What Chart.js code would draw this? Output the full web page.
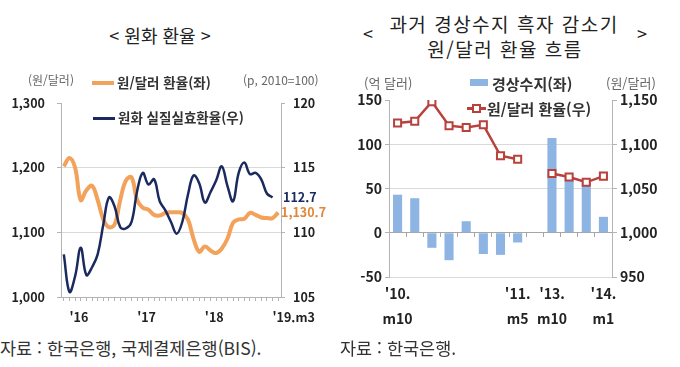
<!DOCTYPE html>
<html lang="ko">
<head>
<meta charset="UTF-8">
<title>원화 환율</title>
<script src="https://cdn.jsdelivr.net/npm/chart.js"></script>
<style>
  body { margin: 0; background: #fff; font-family: 'Noto Sans CJK KR', sans-serif; }
  #page { position: relative; width: 680px; height: 367px; overflow: hidden; background: #fff; }
  .box { position: absolute; top: 60px; width: 340px; height: 270px; }
  .t { position: absolute; white-space: nowrap; transform: translateY(-50%); line-height: 1; }
  .c { transform: translate(-50%, -50%); }
  .title { font-size: 18px; color: #222; }
  .title2 { font-size: 19px; letter-spacing: 1.5px; color: #222; }
  .unit { font-size: 12px; color: #666; }
  .unit2 { font-size: 13px; color: #666; }
  .leg { font-size: 13.5px; font-weight: bold; color: #333; }
  .leg2 { font-size: 15px; font-weight: bold; color: #333; }
  .note { font-size: 17.5px; color: #333; }
  .sw { position: absolute; }
</style>
</head>
<body>
<div id="page">
  <!-- titles -->
  <div class="t c title" style="left:160px; top:35px;">&lt; 원화 환율 &gt;</div>
  <div class="t c title" style="left:368px; top:33px;">&lt;</div>
  <div class="t c title2" style="left:504px; top:23px;">과거 경상수지 흑자 감소기</div>
  <div class="t c title2" style="left:505px; top:48px;">원/달러 환율 흐름</div>
  <div class="t c title" style="left:642px; top:33px;">&gt;</div>

  <!-- left chart -->
  <div class="box" style="left:0;"><canvas id="rateChart"></canvas></div>
  <div class="t unit" style="left:28px; top:80px;">(원/달러)</div>
  <div class="t unit" style="left:243px; top:80px;">(p, 2010=100)</div>
  <div class="sw" style="left:92px; top:81px; width:22px; height:4px; background:#f2a25a;"></div>
  <div class="t leg" style="left:117px; top:83px;">원/달러 환율(좌)</div>
  <div class="sw" style="left:93px; top:117px; width:22px; height:3px; background:#1b2a5e;"></div>
  <div class="t leg" style="left:118px; top:118px;">원화 실질실효환율(우)</div>

  <!-- right chart -->
  <div class="box" style="left:340px; height:290px;"><canvas id="caChart"></canvas></div>
  <div class="t unit2" style="left:364px; top:82px;">(억 달러)</div>
  <div class="t unit2" style="left:606px; top:82px;">(원/달러)</div>
  <div class="sw" style="left:470px; top:79px; width:18px; height:7px; background:#8db4e2;"></div>
  <div class="t leg2" style="left:492px; top:83px;">경상수지(좌)</div>
  <div class="sw" style="left:467px; top:107px; width:19px; height:2.5px; background:#b8413c;"></div>
  <div class="sw" style="left:472px; top:104px; width:5px; height:5px; border:2px solid #b8413c; background:#fff;"></div>
  <div class="t leg2" style="left:487px; top:108px;">원/달러 환율(우)</div>

  <!-- sources -->
  <div class="t note" style="left:0; top:348px;">자료 : 한국은행, 국제결제은행(BIS).</div>
  <div class="t note" style="left:340px; top:348px;">자료 : 한국은행.</div>
</div>

<script>
// left chart: 2016.1 ~ 2019.3, monthly
const months = ["'16.1","'16.2","'16.3","'16.4","'16.5","'16.6","'16.7","'16.8","'16.9","'16.10","'16.11","'16.12",
                "'17.1","'17.2","'17.3","'17.4","'17.5","'17.6","'17.7","'17.8","'17.9","'17.10","'17.11","'17.12",
                "'18.1","'18.2","'18.3","'18.4","'18.5","'18.6","'18.7","'18.8","'18.9","'18.10","'18.11","'18.12",
                "'19.1","'19.2","'19.3"];
const usdKrw = [1202,1215,1200,1150,1165,1172,1150,1120,1108,1112,1150,1180,
                1185,1150,1138,1135,1127,1126,1130,1131,1131,1130,1120,1090,
                1070,1078,1072,1068,1075,1090,1115,1120,1121,1130,1127,1123,
                1122,1122,1130.7];
const reer = [108.3,105.4,106.6,108.8,106.7,107.3,108.3,110.6,112.7,112.0,110.4,110.3,
              110.8,113.2,114.6,113.7,114.1,112.4,111.7,110.8,109.9,110.8,112.9,114.4,
              113.8,112.3,113.1,114.0,115.1,113.6,112.4,114.6,115.4,114.5,114.6,114.1,
              113.0,112.7];
const monthTickIdx = [1, 13, 25, 37];
const monthTickText = ["'16", "'17", "'18", "'19.m3"];

// right chart: 2010.10 ~ 2011.5, gap, 2013.10 ~ 2014.1
const periods = ["'10.10","'10.11","'10.12","'11.1","'11.2","'11.3","'11.4","'11.5","",
                 "'13.10","'13.11","'13.12","'14.1"];
const currentAcct = [43,39,-17,-31,13,-24,-25,-11,null,107,62,57,18];
const usdKrwPast = [1124,1126,1148,1121,1119,1122,1087,1083,null,1067,1063,1057,1064];
const periodTickIdx = [0, 7, 9, 12];
const periodTickText = [["'10.","m10"], ["'11.","m5"], ["'13.","m10"], ["'14.","m1"]];

const ORANGE = '#f2a25a', NAVY = '#1b2a5e', BAR = '#8db4e2', RED = '#b8413c';
const GRID = '#d9d9d9', AXIS = '#b4b4b4';

Chart.defaults.font.family = "'Noto Sans CJK KR', sans-serif";
Chart.defaults.color = '#222';
const tickFont = { size: 12.5, weight: 'bold' };
const tickFont2 = { size: 14, weight: 'bold' };
const comma = v => Number(v).toLocaleString('en-US');

const endLabels = {
    id: 'endLabels',
    afterDatasetsDraw(chart) {
        const ctx = chart.ctx, a = chart.chartArea;
        const lastR = reer[reer.length - 1], lastK = usdKrw[usdKrw.length - 1];
        ctx.save();
        ctx.font = "bold 12.5px 'Noto Sans CJK KR'";
        ctx.textBaseline = 'middle';
        ctx.fillStyle = NAVY;
        ctx.fillText(lastR.toFixed(1), a.right + 2, chart.scales.y1.getPixelForValue(lastR));
        ctx.fillStyle = '#e0873a';
        ctx.fillText(lastK.toLocaleString('en-US', { minimumFractionDigits: 1 }), a.right, chart.scales.y.getPixelForValue(lastK));
        ctx.restore();
    }
};

new Chart(document.getElementById('rateChart'), {
    type: 'line',
    data: {
        labels: months,
        datasets: [
            { label: '원화 실질실효환율(우)', data: reer, yAxisID: 'y1', borderColor: NAVY, borderWidth: 2.5,
              pointRadius: 0, tension: 0.4, order: 0 },
            { label: '원/달러 환율(좌)', data: usdKrw, yAxisID: 'y', borderColor: ORANGE, borderWidth: 4,
              pointRadius: 0, tension: 0.4, order: 1 }
        ]
    },
    options: {
        responsive: true,
        maintainAspectRatio: false,
        animation: false,
        layout: { padding: { top: 43 } },
        plugins: { legend: { display: false }, tooltip: { enabled: false } },
        scales: {
            x: {
                offset: true,
                afterFit: s => { s.height = 33; },
                border: { color: AXIS },
                grid: { drawOnChartArea: false, tickLength: 4, color: AXIS },
                ticks: {
                    autoSkip: false, maxRotation: 0, align: 'start', padding: 9, font: tickFont,
                    callback: (v, i) => { const k = monthTickIdx.indexOf(i); return k >= 0 ? monthTickText[k] : ''; }
                }
            },
            y: {
                position: 'left', min: 1000, max: 1300,
                afterFit: s => { s.width = 61; },
                border: { color: AXIS },
                grid: { tickLength: 4, tickColor: AXIS,
                        color: c => (c.tick.value === 1100 || c.tick.value === 1200) ? GRID : 'rgba(0,0,0,0)' },
                ticks: { stepSize: 100, padding: 12, font: tickFont, callback: comma }
            },
            y1: {
                position: 'right', min: 105, max: 120,
                afterFit: s => { s.width = 59; },
                border: { color: AXIS },
                grid: { drawOnChartArea: false, tickLength: 4, color: AXIS },
                ticks: { stepSize: 5, padding: 8, font: tickFont }
            }
        }
    },
    plugins: [endLabels]
});

new Chart(document.getElementById('caChart'), {
    type: 'bar',
    data: {
        labels: periods,
        datasets: [
            { type: 'line', label: '원/달러 환율(우)', data: usdKrwPast, yAxisID: 'y1', borderColor: RED, borderWidth: 2.5,
              pointStyle: 'rect', pointRadius: 5, pointBorderWidth: 2, pointBackgroundColor: '#fff',
              pointBorderColor: RED, spanGaps: false, order: 0 },
            { type: 'bar', label: '경상수지(좌)', data: currentAcct, yAxisID: 'y', backgroundColor: BAR,
              categoryPercentage: 1, barPercentage: 0.53, order: 1 }
        ]
    },
    options: {
        responsive: true,
        maintainAspectRatio: false,
        animation: false,
        layout: { padding: { top: 40 } },
        plugins: { legend: { display: false }, tooltip: { enabled: false } },
        scales: {
            x: {
                afterFit: s => { s.height = 290 - 217; },
                border: { display: false },
                grid: { display: false },
                ticks: {
                    autoSkip: false, maxRotation: 0, padding: -4,
                    font: { size: 14, weight: 'bold', lineHeight: 1.8 },
                    callback: (v, i) => { const k = periodTickIdx.indexOf(i); return k >= 0 ? periodTickText[k] : ''; }
                }
            },
            x2: {
                type: 'category',
                position: { y: 0 },
                offset: true,
                border: { color: '#a6a6a6' },
                grid: { offset: true, drawOnChartArea: false, tickLength: 4, color: '#a6a6a6' },
                ticks: { display: false }
            },
            y: {
                position: 'left', min: -50, max: 150,
                afterFit: s => { s.width = 49; },
                border: { color: AXIS },
                grid: { tickLength: 4, tickColor: AXIS,
                        color: c => c.tick.value === 150 ? 'rgba(0,0,0,0)' : GRID },
                ticks: { stepSize: 50, padding: 3, font: tickFont2 }
            },
            y1: {
                position: 'right', min: 950, max: 1150,
                afterFit: s => { s.width = 68; },
                border: { color: AXIS },
                grid: { drawOnChartArea: false, tickLength: 5, color: AXIS },
                ticks: { stepSize: 50, padding: 3, font: tickFont2, callback: comma }
            }
        }
    }
});
</script>
</body>
</html>
